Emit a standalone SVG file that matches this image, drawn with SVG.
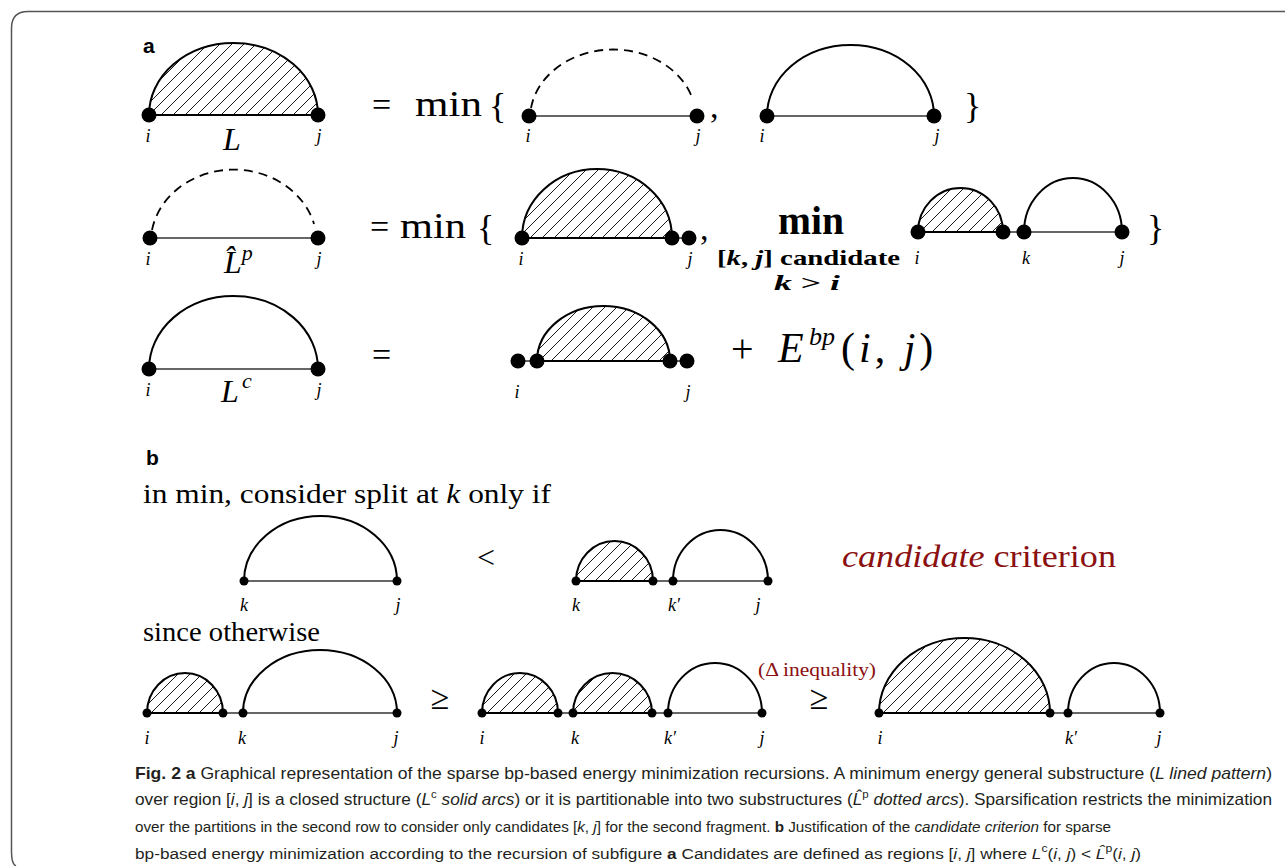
<svg xmlns="http://www.w3.org/2000/svg" width="1285" height="866" viewBox="0 0 1285 866">
<style>
.arc{fill:none;stroke:#000;stroke-width:2}
.hat{fill:url(#hatch);stroke:#000;stroke-width:2}
.dash{fill:none;stroke:#000;stroke-width:1.8;stroke-dasharray:9 6}
.base{stroke:#333;stroke-width:1.4}
.m{font-family:"Liberation Serif","DejaVu Serif",serif;fill:#000}
.lab{font-family:"Liberation Serif","DejaVu Serif",serif;font-style:italic;font-size:18px;text-anchor:middle}
.sec{font-family:"Liberation Sans",Arial,sans-serif;font-weight:bold;font-size:21px}
.red{fill:#8b1010}
.cap{font-family:"Liberation Sans Narrow","Liberation Sans",Arial,sans-serif;fill:#231f20}
</style>
<defs>
<pattern id="hatch" patternUnits="userSpaceOnUse" width="12" height="12">
<path d="M-1,1 L1,-1 M0,12 L12,0 M11,13 L13,11" stroke="#000" stroke-width="0.9"/>
</pattern>
</defs>
<path d="M1285,11.5 H28 Q11.5,11.5 11.5,28 V852 Q11.5,864 16,866" fill="none" stroke="#555" stroke-width="1.5"/>

<g id="panel-a">
<text class="sec" x="143" y="53">a</text>
</g>

<g id="row1">
<g id="L">
<path class="hat" d="M149,115 A84.5,72 0 0 1 318,115 Z"/>
<circle cx="149" cy="115" r="7.5"/><circle cx="318" cy="115" r="7.5"/>
<text class="lab" x="148" y="142">i</text><text class="lab" x="319" y="142">j</text>
<text class="m" x="232" y="150" font-size="32" font-style="italic" text-anchor="middle">L</text>
</g>
<text class="m" x="372" y="116" font-size="34">=</text>
<text class="m" x="415" y="116" font-size="36" textLength="67" lengthAdjust="spacingAndGlyphs">min</text>
<text class="m" x="489" y="118" font-size="36">{</text>
<g id="r1-dashed">
<line class="base" x1="529" y1="116" x2="697" y2="116"/>
<path class="dash" d="M531,108 A83,69 0 0 1 693,100"/>
<circle cx="529" cy="116" r="7.5"/><circle cx="697" cy="116" r="7.5"/>
<text class="lab" x="528" y="142">i</text><text class="lab" x="698" y="142">j</text>
</g>
<text class="m" x="710" y="118" font-size="34">,</text>
<g id="r1-solid">
<line class="base" x1="767" y1="116" x2="934" y2="116"/>
<path class="arc" d="M767,116 A83.5,71 0 0 1 934,116"/>
<circle cx="767" cy="116" r="7.5"/><circle cx="934" cy="116" r="7.5"/>
<text class="lab" x="762" y="142">i</text><text class="lab" x="937" y="142">j</text>
</g>
<text class="m" x="964" y="118" font-size="36">}</text>
</g>

<g id="row2">
<g id="Lp">
<line class="base" x1="150" y1="238" x2="318" y2="238"/>
<path class="dash" d="M152,230 A83,73 0 0 1 314,224"/>
<circle cx="150" cy="238" r="7.5"/><circle cx="318" cy="238" r="7.5"/>
<text class="lab" x="148" y="265">i</text><text class="lab" x="319" y="265">j</text>
<text class="m" x="224" y="273" font-size="32" font-style="italic">L̂<tspan font-size="22" dy="-13">p</tspan></text>
</g>
<text class="m" x="370" y="238" font-size="34">=</text>
<text class="m" x="400" y="238" font-size="36" textLength="66" lengthAdjust="spacingAndGlyphs">min</text>
<text class="m" x="477" y="240" font-size="36">{</text>
<g id="r2-hatched">
<line class="base" x1="522" y1="238" x2="689" y2="238"/>
<path class="hat" d="M522,238 A75,69 0 0 1 672,238 Z"/>
<circle cx="522" cy="238" r="7.5"/><circle cx="672" cy="238" r="7.5"/><circle cx="689" cy="238" r="7.5"/>
<text class="lab" x="521" y="265">i</text><text class="lab" x="690" y="265">j</text>
</g>
<text class="m" x="700" y="240" font-size="34">,</text>
<text class="m" x="811" y="234" font-size="40" font-weight="bold" text-anchor="middle" textLength="66" lengthAdjust="spacingAndGlyphs">min</text>
<text class="m" x="717" y="265" font-size="22" font-weight="bold" textLength="183" lengthAdjust="spacingAndGlyphs">[<tspan font-style="italic">k</tspan>, <tspan font-style="italic">j</tspan>] candidate</text>
<text class="m" x="774" y="290" font-size="22" font-weight="bold" textLength="66" lengthAdjust="spacingAndGlyphs"><tspan font-style="italic">k</tspan> &gt; <tspan font-style="italic">i</tspan></text>
<g id="r2-split">
<line class="base" x1="918" y1="232" x2="1122" y2="232"/>
<path class="hat" d="M918,232 A42.5,44 0 0 1 1003,232 Z"/>
<path class="arc" d="M1024,232 A49,54 0 0 1 1122,232"/>
<circle cx="918" cy="232" r="7.5"/><circle cx="1003" cy="232" r="7.5"/><circle cx="1024" cy="232" r="7.5"/><circle cx="1122" cy="232" r="7.5"/>
<text class="lab" x="917" y="264">i</text><text class="lab" x="1026" y="264">k</text><text class="lab" x="1122" y="264">j</text>
</g>
<text class="m" x="1147" y="240" font-size="36">}</text>
</g>

<g id="row3">
<g id="Lc">
<line class="base" x1="149" y1="369" x2="318" y2="369"/>
<path class="arc" d="M149,369 A84.5,73 0 0 1 318,369"/>
<circle cx="149" cy="369" r="7.5"/><circle cx="318" cy="369" r="7.5"/>
<text class="lab" x="148" y="396">i</text><text class="lab" x="319" y="396">j</text>
<text class="m" x="230" y="402" font-size="32" font-style="italic" text-anchor="middle">L</text>
<text class="m" x="242" y="388" font-size="22" font-style="italic">c</text>
</g>
<text class="m" x="372" y="366" font-size="34">=</text>
<g id="r3-hatched">
<line class="base" x1="518" y1="361" x2="687" y2="361"/>
<path class="hat" d="M537,361 A66.5,55 0 0 1 670,361 Z"/>
<circle cx="518" cy="361" r="7.5"/><circle cx="537" cy="361" r="7.5"/><circle cx="670" cy="361" r="7.5"/><circle cx="687" cy="361" r="7.5"/>
<text class="lab" x="517" y="398">i</text><text class="lab" x="688" y="398">j</text>
</g>
<text class="m" x="731" y="362" font-size="40">+</text>
<text class="m" x="778" y="362" font-size="42" font-style="italic">E</text>
<text class="m" x="809" y="345" font-size="26" font-style="italic">bp</text>
<text class="m" x="841" y="362" font-size="42" letter-spacing="4">(<tspan font-style="italic">i</tspan>, <tspan font-style="italic">j</tspan>)</text>
</g>

<g id="panel-b">
<text class="sec" x="146" y="465">b</text>
<text class="m" x="143" y="503" font-size="28" textLength="408" lengthAdjust="spacingAndGlyphs">in min, consider split at <tspan font-style="italic">k</tspan> only if</text>
<g id="b1-left">
<line class="base" x1="244" y1="581" x2="397" y2="581"/>
<path class="arc" d="M244,581 A76.5,65 0 0 1 397,581"/>
<circle cx="244" cy="581" r="4.5"/><circle cx="397" cy="581" r="4.5"/>
<text class="lab" x="244" y="611">k</text><text class="lab" x="398" y="611">j</text>
</g>
<text class="m" x="486" y="568" font-size="32" text-anchor="middle">&lt;</text>
<g id="b1-right">
<line class="base" x1="576" y1="581" x2="768" y2="581"/>
<path class="hat" d="M576,581 A38.5,40 0 0 1 653,581 Z"/>
<path class="arc" d="M673,581 A47.5,51 0 0 1 768,581"/>
<circle cx="576" cy="581" r="4.5"/><circle cx="653" cy="581" r="4.5"/><circle cx="673" cy="581" r="4.5"/><circle cx="768" cy="581" r="4.5"/>
<text class="lab" x="576" y="611">k</text><text class="lab" x="674" y="611">k′</text><text class="lab" x="758" y="611">j</text>
</g>
<text class="m red" x="842" y="567" font-size="32" textLength="274" lengthAdjust="spacingAndGlyphs"><tspan font-style="italic">candidate</tspan> criterion</text>
<text class="m" x="143" y="641" font-size="28" textLength="177" lengthAdjust="spacingAndGlyphs">since otherwise</text>
<g id="b2-a">
<line class="base" x1="147" y1="713" x2="397" y2="713"/>
<path class="hat" d="M147,713 A38,40 0 0 1 223,713 Z"/>
<path class="arc" d="M243,713 A77,63 0 0 1 397,713"/>
<circle cx="147" cy="713" r="4.5"/><circle cx="223" cy="713" r="4.5"/><circle cx="243" cy="713" r="4.5"/><circle cx="397" cy="713" r="4.5"/>
<text class="lab" x="147" y="744">i</text><text class="lab" x="242" y="744">k</text><text class="lab" x="396" y="744">j</text>
</g>
<text class="m" x="440" y="709" font-size="34" text-anchor="middle">≥</text>
<g id="b2-b">
<line class="base" x1="482" y1="713" x2="762" y2="713"/>
<path class="hat" d="M482,713 A38,40 0 0 1 558,713 Z"/>
<path class="hat" d="M573,713 A39.5,40 0 0 1 652,713 Z"/>
<path class="arc" d="M668,713 A47,50 0 0 1 762,713"/>
<circle cx="482" cy="713" r="4.5"/><circle cx="558" cy="713" r="4.5"/><circle cx="573" cy="713" r="4.5"/><circle cx="652" cy="713" r="4.5"/><circle cx="668" cy="713" r="4.5"/><circle cx="762" cy="713" r="4.5"/>
<text class="lab" x="482" y="744">i</text><text class="lab" x="575" y="744">k</text><text class="lab" x="670" y="744">k′</text><text class="lab" x="762" y="744">j</text>
</g>
<text class="m red" x="758" y="676" font-size="19" textLength="118" lengthAdjust="spacingAndGlyphs">(Δ inequality)</text>
<text class="m" x="819" y="709" font-size="34" text-anchor="middle">≥</text>
<g id="b2-c">
<line class="base" x1="879" y1="713" x2="1160" y2="713"/>
<path class="hat" d="M879,713 A85.5,75 0 0 1 1050,713 Z"/>
<path class="arc" d="M1068,713 A46,50 0 0 1 1160,713"/>
<circle cx="879" cy="713" r="4.5"/><circle cx="1050" cy="713" r="4.5"/><circle cx="1068" cy="713" r="4.5"/><circle cx="1160" cy="713" r="4.5"/>
<text class="lab" x="880" y="744">i</text><text class="lab" x="1071" y="744">k′</text><text class="lab" x="1159" y="744">j</text>
</g>
</g>

<g id="caption">
<text class="cap" x="135" y="779" font-size="16.5" textLength="1137" lengthAdjust="spacingAndGlyphs"><tspan font-weight="bold">Fig. 2  a</tspan> Graphical representation of the sparse bp-based energy minimization recursions. A minimum energy general substructure (<tspan font-style="italic">L lined pattern</tspan>)</text>
<text class="cap" x="135" y="805" font-size="16.5" textLength="1137" lengthAdjust="spacingAndGlyphs">over region [<tspan font-style="italic">i</tspan>, <tspan font-style="italic">j</tspan>] is a closed structure (<tspan font-style="italic">L</tspan><tspan font-size="11" dy="-7">c</tspan><tspan font-style="italic" dy="7"> solid arcs</tspan>) or it is partitionable into two substructures (<tspan font-style="italic">L̂</tspan><tspan font-size="11" dy="-7">p</tspan><tspan font-style="italic" dy="7"> dotted arcs</tspan>). Sparsification restricts the minimization</text>
<text class="cap" x="135" y="832" font-size="15" textLength="976" lengthAdjust="spacingAndGlyphs">over the partitions in the second row to consider only candidates [<tspan font-style="italic">k</tspan>, <tspan font-style="italic">j</tspan>] for the second fragment. <tspan font-weight="bold">b</tspan> Justification of the <tspan font-style="italic">candidate criterion</tspan> for sparse</text>
<text class="cap" x="135" y="859" font-size="15.5" textLength="1006" lengthAdjust="spacingAndGlyphs">bp-based energy minimization according to the recursion of subfigure <tspan font-weight="bold">a</tspan> Candidates are defined as regions [<tspan font-style="italic">i</tspan>, <tspan font-style="italic">j</tspan>] where <tspan font-style="italic">L</tspan><tspan font-size="11" dy="-7">c</tspan><tspan dy="7">(</tspan><tspan font-style="italic">i</tspan>, <tspan font-style="italic">j</tspan>) &lt; <tspan font-style="italic">L̂</tspan><tspan font-size="11" dy="-7">p</tspan><tspan dy="7">(</tspan><tspan font-style="italic">i</tspan>, <tspan font-style="italic">j</tspan>)</text>
</g>
</svg>
